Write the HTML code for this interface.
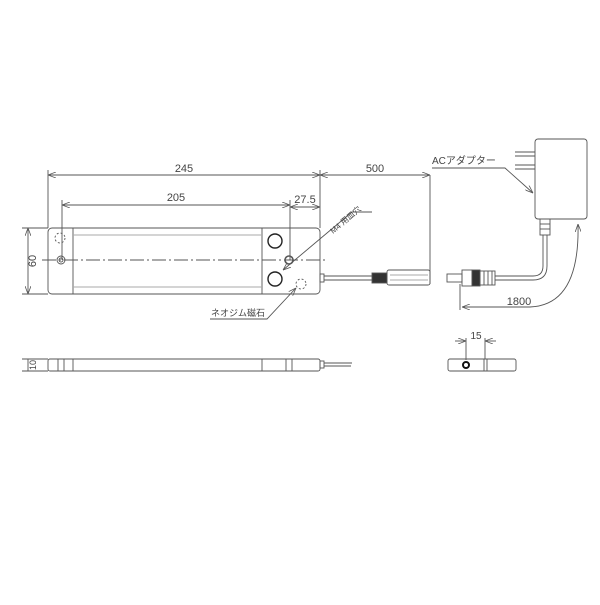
<!DOCTYPE html>
<html><head><style>
body{margin:0;background:#fff}
svg text{font-family:"Liberation Sans","Noto Sans CJK JP",sans-serif;fill:#444}
</style></head><body>
<svg width="600" height="600" viewBox="0 0 600 600" xmlns="http://www.w3.org/2000/svg">
<defs>
<marker id="a" markerWidth="8" markerHeight="6" refX="8" refY="3" orient="auto-start-reverse" markerUnits="userSpaceOnUse"><path d="M0,0L8,3L0,6" fill="none" stroke="#555" stroke-width="0.8"/></marker>
</defs>
<g stroke="#555" stroke-width="0.9" fill="none">
<rect x="48" y="228" width="272" height="66" rx="4"/>
<line x1="73" y1="228" x2="73" y2="294"/>
<line x1="262" y1="228" x2="262" y2="294"/>
<line x1="73" y1="235" x2="262" y2="235" stroke="#aaa"/>
<line x1="73" y1="287" x2="262" y2="287" stroke="#aaa"/>
<line x1="42" y1="260" x2="325" y2="260" stroke-dasharray="14,3,2,3"/>
<circle cx="60" cy="238" r="5" stroke-dasharray="2,2"/>
<circle cx="61" cy="260" r="4"/><circle cx="61" cy="260" r="2"/>
<circle cx="275" cy="241" r="7" stroke="#222" stroke-width="1.4"/>
<circle cx="275" cy="279" r="7" stroke="#222" stroke-width="1.4"/>
<circle cx="301" cy="284" r="5" stroke-dasharray="2,2"/>
<circle cx="289" cy="260" r="4" stroke-width="1.6"/>
<line x1="48" y1="170" x2="48" y2="228"/>
<line x1="320" y1="170" x2="320" y2="228"/>
<line x1="48" y1="175" x2="320" y2="175" marker-start="url(#a)" marker-end="url(#a)"/>
<line x1="320" y1="175" x2="430" y2="175" marker-start="url(#a)" marker-end="url(#a)"/>
<line x1="430" y1="175" x2="430" y2="284"/>
<line x1="62" y1="200" x2="62" y2="260"/>
<line x1="290" y1="200" x2="290" y2="260"/>
<line x1="62" y1="205" x2="290" y2="205" marker-start="url(#a)" marker-end="url(#a)"/>
<line x1="290" y1="207" x2="320" y2="207" marker-start="url(#a)" marker-end="url(#a)"/>
<line x1="22" y1="228" x2="48" y2="228"/>
<line x1="22" y1="294" x2="48" y2="294"/>
<line x1="28" y1="228" x2="28" y2="294" marker-start="url(#a)" marker-end="url(#a)"/>
<polyline points="372,212 352,212 283,270" marker-end="url(#a)"/>
<polyline points="210,319 267,319 296,288" marker-end="url(#a)"/>
<rect x="320" y="274" width="4" height="8"/>
<line x1="324" y1="276" x2="372" y2="276"/><line x1="324" y1="280" x2="372" y2="280"/>
<rect x="372" y="273" width="15" height="10" fill="#333"/>
<rect x="387" y="270" width="43" height="15" rx="2"/>
<line x1="390" y1="275" x2="428" y2="275" stroke="#aaa"/>
<line x1="390" y1="280" x2="428" y2="280" stroke="#aaa"/>
<rect x="535" y="139" width="52" height="80" rx="3"/>
<line x1="515" y1="152" x2="535" y2="152"/><line x1="515" y1="156" x2="535" y2="156"/>
<line x1="515" y1="165" x2="535" y2="165"/><line x1="515" y1="169" x2="535" y2="169"/>
<rect x="540" y="219" width="10" height="16"/>
<line x1="540" y1="224" x2="550" y2="224"/><line x1="540" y1="229" x2="550" y2="229"/>
<path d="M543,235 V266 Q543,276 533,276 H495"/>
<path d="M547,235 V266 Q547,280 533,280 H495"/>
<rect x="447" y="274" width="15" height="8"/>
<rect x="462" y="270" width="10" height="16"/>
<rect x="472" y="270" width="8" height="16" fill="#333"/>
<rect x="480" y="271" width="15" height="14"/>
<line x1="484" y1="271" x2="484" y2="285"/><line x1="488" y1="271" x2="488" y2="285"/><line x1="492" y1="271" x2="492" y2="285"/>
<polyline points="432,168 505,168 533,193" marker-end="url(#a)"/>
<line x1="460" y1="284" x2="460" y2="310"/>
<path d="M578,224 Q580,305 530,307 H462" marker-start="url(#a)" marker-end="url(#a)"/>
<rect x="48" y="359" width="272" height="12" rx="2"/>
<line x1="73" y1="359" x2="73" y2="371"/>
<line x1="262" y1="359" x2="262" y2="371"/>
<line x1="58" y1="359" x2="58" y2="371"/><line x1="64" y1="359" x2="64" y2="371"/>
<line x1="286" y1="359" x2="286" y2="371"/><line x1="292" y1="359" x2="292" y2="371"/>
<rect x="320" y="361" width="4" height="7"/>
<line x1="324" y1="363" x2="352" y2="363"/><line x1="324" y1="366" x2="351" y2="366"/>
<line x1="22" y1="359" x2="48" y2="359"/><line x1="22" y1="371" x2="48" y2="371"/>
<line x1="28" y1="359" x2="28" y2="371"/>
<rect x="448" y="359" width="68" height="12" rx="2"/>
<circle cx="466" cy="365" r="3" stroke="#111" stroke-width="2"/>
<line x1="484" y1="359" x2="484" y2="371"/><line x1="487" y1="359" x2="487" y2="371"/>
<line x1="466" y1="338" x2="466" y2="360"/>
<line x1="485" y1="338" x2="485" y2="359"/>
<line x1="455" y1="341" x2="466" y2="341" marker-end="url(#a)"/>
<line x1="496" y1="341" x2="485" y2="341" marker-end="url(#a)"/>
</g>
<g font-size="11">
<text x="184" y="172" text-anchor="middle">245</text>
<text x="176" y="201" text-anchor="middle">205</text>
<text x="305" y="203" text-anchor="middle">27.5</text>
<text x="375" y="172" text-anchor="middle">500</text>
<text x="36" y="261" text-anchor="middle" transform="rotate(-90 36 261)">60</text>
<text x="36" y="365" text-anchor="middle" font-size="9" transform="rotate(-90 36 365)">10</text>
<text x="476" y="339" text-anchor="middle" font-size="10">15</text>
<text x="519" y="305" text-anchor="middle">1800</text>
<text x="432" y="164" font-size="10">ACアダプター</text>
<text x="211" y="316" font-size="9">ネオジム磁石</text>
<text x="333" y="234" font-size="8" transform="rotate(-40 333 234)">M4 用皿穴</text>
</g>
</svg>
</body></html>
